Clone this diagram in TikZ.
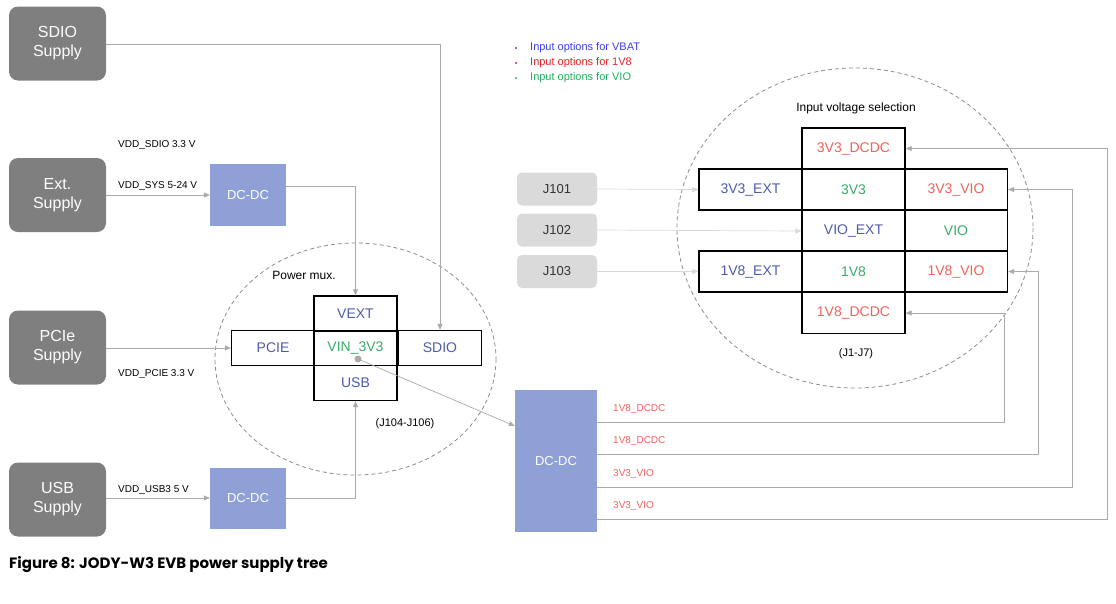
\documentclass[tikz,border=0pt]{standalone}
\usepackage{fontspec}
\setmainfont{Liberation Sans}
\newfontfamily\capfont{Poppins}
\usetikzlibrary{arrows.meta}
\definecolor{supgray}{HTML}{7F7F7F}
\definecolor{dcblue}{HTML}{8FA0D6}
\definecolor{jgray}{HTML}{DADADA}
\definecolor{lblue}{HTML}{4D5BAB}
\definecolor{lgreen}{HTML}{3AAA6A}
\definecolor{lred}{HTML}{F0625A}
\definecolor{legblue}{HTML}{3C3CF0}
\definecolor{legred}{HTML}{E8202A}
\definecolor{leggreen}{HTML}{20B060}
\definecolor{conn}{HTML}{AAAAAA}
\definecolor{lconn}{HTML}{D8D8D8}
\tikzset{
  supply/.style={fill=supgray,rounded corners=9pt,minimum width=97pt,minimum height=74pt,text=white,font=\fontsize{16}{19}\selectfont,align=center,inner sep=0pt},
  dcdc/.style={fill=dcblue,text=white,font=\fontsize{13}{15}\selectfont,inner sep=0pt},
  jbox/.style={fill=jgray,rounded corners=5pt,minimum width=80pt,minimum height=33pt,text=black!80,font=\fontsize{13}{15}\selectfont,inner sep=0pt},
  cell/.style={draw=black,line width=1.3pt,inner sep=0pt,font=\fontsize{14}{16}\selectfont},
  mcell/.style={cell,minimum width=83pt,minimum height=35pt},
  rcell/.style={cell,minimum width=103pt,minimum height=41pt},
  small/.style={font=\fontsize{10}{12}\selectfont,anchor=west,inner sep=0pt},
  wire/.style={draw=conn,line width=0.7pt,-{Triangle[length=6pt,width=5pt]}},
  lwire/.style={draw=lconn,line width=0.7pt,-{Triangle[length=6pt,width=5pt]}},
  ring/.style={draw=black!45,dash pattern=on 4pt off 3pt,line width=0.8pt},
}
\begin{document}
\begin{tikzpicture}[x=1pt,y=-1pt]
\useasboundingbox (0,0) rectangle (1116,603);
% supplies
\node[supply] (sdio) at (57.5,43.5) {SDIO\\Supply};
\node[supply] (ext) at (57.5,195) {Ext.\\Supply};
\node[supply] (pcie) at (57.5,347.5) {PCIe\\Supply};
\node[supply] (usb) at (57.5,499.5) {USB\\Supply};
\node[dcdc,minimum width=76pt,minimum height=62pt] (dc1) at (248,195) {DC-DC};
\node[dcdc,minimum width=76pt,minimum height=61pt] (dc2) at (248,498.5) {DC-DC};
\node[small] at (118,145) {VDD\_SDIO 3.3 V};
\node[small] at (118,186) {VDD\_SYS 5-24 V};
\node[small] at (118,374) {VDD\_PCIE 3.3 V};
\node[small] at (118,490) {VDD\_USB3 5 V};
% power mux
\draw[ring] (355.5,359) ellipse [x radius=140.5, y radius=116];
\node[font=\fontsize{12}{14}\selectfont] at (304,275) {Power mux.};
\node[font=\fontsize{11}{13}\selectfont] at (405,424) {(J104-J106)};
\node[mcell,text=lblue] (vext) at (355.5,313.5) {VEXT};
\node[mcell,text=lblue] (mpcie) at (273,348) {PCIE};
\node[mcell,text=lblue] (msdio) at (440,348) {SDIO};
\node[mcell,text=lgreen] (vin) at (355.5,348) {VIN\_3V3};
\node[mcell,text=lblue] (musb) at (355.5,383) {USB};
% wires left
\draw[wire] (sdio.east |- 0,44) -| (msdio.north);
\draw[wire] (ext.east |- 0,195) -- (dc1.west |- 0,195);
\draw[wire] (dc1.east |- 0,186) -| (vext.north);
\draw[wire] (pcie.east |- 0,348) -- (mpcie.west);
\draw[wire] (usb.east |- 0,498) -- (dc2.west |- 0,498);
\draw[wire] (dc2.east |- 0,498) -| (musb.south);
% big dcdc
\node[dcdc,minimum width=82pt,minimum height=142pt] (dc3) at (556,461) {DC-DC};
\fill[conn] (358,359) circle (3.5pt);
\coordinate (dot) at (358,359);
\draw[wire] (dot) -- (dc3.west |- 0,426);
% legend
\foreach \y/\c/\t in {48/legblue/VBAT,63/legred/1V8,78/leggreen/VIO}{
  \fill[\c] (516,\y) circle (1.2pt);
  \node[anchor=west,inner sep=0pt,text=\c,font=\fontsize{11}{13}\selectfont] at (530,\y) {Input options for \t};
}
% input voltage selection
\draw[ring] (855,228) ellipse [x radius=178, y radius=160];
\node[font=\fontsize{12}{14}\selectfont] at (856,108) {Input voltage selection};
\node[font=\fontsize{11}{13}\selectfont] at (856,354) {(J1-J7)};
\node[rcell,text=lred] (c33dc) at (853.5,148.5) {3V3\_DCDC};
\node[rcell,text=lblue] (c33ext) at (750.5,189.5) {3V3\_EXT};
\node[rcell,text=lgreen] (c33) at (853.5,189.5) {3V3};
\node[rcell,text=lred] (c33vio) at (956,189.5) {3V3\_VIO};
\node[rcell,text=lblue] (cvioext) at (853.5,231) {VIO\_EXT};
\node[rcell,text=lgreen] (cvio) at (956,231) {VIO};
\node[rcell,text=lblue] (c18ext) at (750.5,271.5) {1V8\_EXT};
\node[rcell,text=lgreen] (c18) at (853.5,271.5) {1V8};
\node[rcell,text=lred] (c18vio) at (956,271.5) {1V8\_VIO};
\node[rcell,text=lred] (c18dc) at (853.5,313) {1V8\_DCDC};
% J boxes
\node[jbox] (j101) at (557,189) {J101};
\node[jbox] (j102) at (557,230) {J102};
\node[jbox] (j103) at (557,271.5) {J103};
\draw[lwire] (j101.east) -- (c33ext.west);
\draw[lwire] (j102.east) -- (cvioext.west);
\draw[lwire] (j103.east) -- (c18ext.west);
% dcdc outputs
\foreach \y/\t in {409/1V8\_DCDC,441/1V8\_DCDC,474/3V3\_VIO,506/3V3\_VIO}{
  \node[small,text=lred] at (613,\y) {\t};
}
\draw[wire] (dc3.east |- 0,422) -| (1004,313) -- (c18dc.east);
\draw[wire] (dc3.east |- 0,454) -| (1038,271.5) -- (c18vio.east);
\draw[wire] (dc3.east |- 0,487) -| (1072,189.5) -- (c33vio.east);
\draw[wire] (dc3.east |- 0,519) -| (1107,148.5) -- (c33dc.east);
% caption
\node[anchor=west,inner sep=0pt,font=\capfont\bfseries\fontsize{15}{18}\selectfont] at (9,565) {Figure 8: JODY-W3 EVB power supply tree};
\end{tikzpicture}
\end{document}
